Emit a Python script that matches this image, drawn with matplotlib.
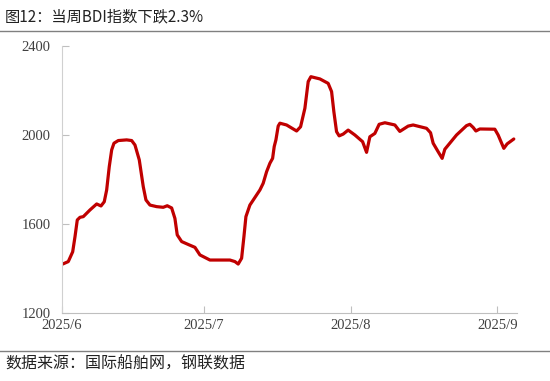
import matplotlib.pyplot as plt
from matplotlib.lines import Line2D

# BDI index, days counted from 2025-06-01
day = [0.15, 1.33, 2.26, 2.75, 3.23, 3.80, 4.50, 5.91, 7.33, 8.24, 8.93, 9.44, 9.99,
       10.50, 10.98, 11.89, 13.66, 14.72, 15.42, 16.33, 17.17, 17.74, 18.59, 20.00,
       21.39, 22.24, 23.17, 23.86, 24.35, 25.28, 26.88, 28.09, 29.14, 31.26, 35.48,
       36.54, 37.23, 37.95, 38.44, 38.86, 39.70, 41.82, 42.51, 43.23, 43.93, 44.50,
       44.84, 45.20, 45.68, 46.04, 47.45, 49.57, 50.41, 51.32, 52.02, 52.59, 54.49,
       56.24, 56.96, 57.44, 58.01, 58.56, 59.41, 60.46, 61.88, 63.51, 64.35, 65.05,
       66.10, 67.01, 68.22, 70.33, 71.38, 73.14, 74.19, 77.02, 77.87, 78.42, 79.47,
       80.32, 80.89, 83.36, 85.47, 86.17, 86.87, 87.45, 88.28, 91.45, 92.15, 93.35,
       94.05, 95.46]
bdi = [1420, 1431, 1475, 1543, 1618, 1630, 1633, 1663, 1690, 1681, 1700, 1753, 1858,
       1933, 1963, 1975, 1978, 1975, 1955, 1888, 1768, 1708, 1685, 1678,
       1675, 1682, 1672, 1625, 1551, 1521, 1506, 1495, 1461, 1438, 1438,
       1431, 1420, 1446, 1543, 1633, 1685, 1753, 1783, 1835, 1873, 1895,
       1948, 1978, 2040, 2053, 2045, 2018, 2037, 2120, 2240, 2262, 2252,
       2232, 2195, 2105, 2015, 1996, 2004, 2022, 2000, 1970, 1922, 1992,
       2007, 2048, 2055, 2045, 2016, 2040, 2045, 2030, 2010, 1963, 1925,
       1895, 1936, 2000, 2042, 2048, 2034, 2018, 2027, 2026, 2000, 1940,
       1960, 1982]
tick_days = [0, 30, 61, 92]
tick_labels = ["2025/6", "2025/7", "2025/8", "2025/9"]

cjk = ["Noto Sans CJK SC", "DejaVu Sans"]

fig = plt.figure(figsize=(5.5, 3.81), dpi=100)
ax = fig.add_axes([0.1127, 0.1785, 0.827, 0.7008])
ax.plot(day, bdi, color="#C00000", lw=2.3, solid_joinstyle="round", solid_capstyle="round")

ax.set_xlim(0, 96.1)
ax.set_ylim(1200, 2400)
ax.set_yticks([1200, 1600, 2000, 2400])
ax.set_xticks(tick_days)
ax.set_xticklabels(tick_labels)
for s in ["top", "right"]:
    ax.spines[s].set_visible(False)
ax.spines["left"].set_color("#d0d0d0")
ax.spines["bottom"].set_color("#bfbfbf")
ax.tick_params(direction="in", length=5, color="#bfbfbf", labelcolor="#404040",
               labelsize=10.5)
for lab in ax.get_xticklabels() + ax.get_yticklabels():
    lab.set_family("Liberation Serif")
ax.tick_params(axis="y", pad=8)
ax.tick_params(axis="x", pad=4)

fig.text(0.009, 0.955, "图12：当周BDI指数下跌2.3%", family=cjk, fontsize=11,
         color="#222222", va="center", ha="left")
fig.add_artist(Line2D([0, 1], [0.919, 0.919], color="#808080", lw=1))
fig.add_artist(Line2D([0, 1], [0.08, 0.08], color="#808080", lw=1))
fig.text(0.009, 0.045, "数据来源：国际船舶网，钢联数据", family=cjk, fontsize=11.5,
         color="#222222", va="center", ha="left")

fig.savefig("out.png", dpi=100)
